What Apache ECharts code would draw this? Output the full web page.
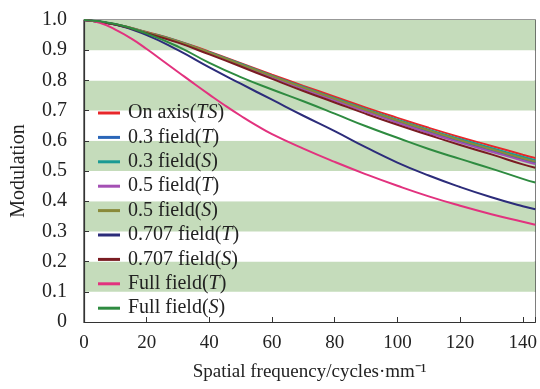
<!DOCTYPE html>
<html>
<head>
<meta charset="utf-8">
<script src="https://cdn.jsdelivr.net/npm/echarts@6/dist/echarts.min.js"></script>
<style>html,body{margin:0;padding:0;background:#fff}#c{width:540px;height:389px}</style>
</head>
<body>
<div id="c"></div>
<script>
// Spatial frequency samples (cycles/mm)
var freqs = [0, 10, 20, 30, 40, 50, 60, 70, 80, 90, 100, 110, 120, 130, 140, 144];
var freqsFine = [0, 5, 10, 15, 20, 25, 30, 35, 40, 45, 50, 55, 60, 70, 80, 90, 100, 110, 120, 130, 140, 144];

var seriesNames = ['On axis(TS)', '0.3 field(T)', '0.3 field(S)', '0.5 field(T)', '0.5 field(S)', '0.707 field(T)', '0.707 field(S)', 'Full field(T)', 'Full field(S)'];

var onAxisTS   = [1, 0.986, 0.960, 0.931, 0.895, 0.857, 0.819, 0.782, 0.746, 0.710, 0.676, 0.643, 0.612, 0.583, 0.554, 0.543];
var f03T       = [1, 0.985, 0.958, 0.928, 0.891, 0.852, 0.812, 0.773, 0.736, 0.699, 0.664, 0.630, 0.598, 0.568, 0.538, 0.527];
var f03S       = [1, 0.986, 0.959, 0.930, 0.893, 0.855, 0.816, 0.778, 0.741, 0.705, 0.670, 0.637, 0.606, 0.576, 0.547, 0.536];
var f05T       = [1, 0.985, 0.957, 0.927, 0.890, 0.850, 0.810, 0.771, 0.733, 0.696, 0.660, 0.626, 0.594, 0.564, 0.534, 0.523];
var f05S       = [1, 0.986, 0.959, 0.929, 0.892, 0.853, 0.814, 0.776, 0.739, 0.702, 0.667, 0.634, 0.602, 0.572, 0.542, 0.531];
var f0707T     = [1, 0.985, 0.950, 0.900, 0.843, 0.789, 0.736, 0.683, 0.632, 0.578, 0.528, 0.485, 0.447, 0.413, 0.383, 0.373];
var f0707S     = [1, 0.985, 0.956, 0.925, 0.886, 0.846, 0.805, 0.765, 0.727, 0.689, 0.653, 0.619, 0.586, 0.555, 0.522, 0.511];
var fullT      = [1, 0.991, 0.968, 0.939, 0.904, 0.866, 0.828, 0.790, 0.753, 0.717, 0.683, 0.651, 0.622, 0.574, 0.530, 0.489, 0.451, 0.416, 0.385, 0.357, 0.332, 0.322];
var fullS      = [1, 0.987, 0.955, 0.912, 0.858, 0.811, 0.770, 0.731, 0.690, 0.648, 0.610, 0.573, 0.540, 0.508, 0.474, 0.462];

var yTicks = [0, 0.1, 0.2, 0.3, 0.4, 0.5, 0.6, 0.7, 0.8, 0.9, 1.0];
var xTicks = [0, 20, 40, 60, 80, 100, 120, 140];

var colors = ['#e8262a', '#2a66b8', '#1a9a94', '#a450b4', '#8a8a3a', '#2c2c7a', '#7a1c22', '#e2327e', '#2e8b40'];
var valueSets = [onAxisTS, f03T, f03S, f05T, f05S, f0707T, f0707S, fullT, fullS];
var xSets = [freqs, freqs, freqs, freqs, freqs, freqs, freqs, freqsFine, freqs];

function pairs(xs, ys) { return xs.map(function (x, i) { return [x, ys[i]]; }); }

var FONT = '"Liberation Serif", "Times New Roman", serif';
var chart = echarts.init(document.getElementById('c'), null, {renderer: 'canvas'});
var series = seriesNames.map(function (n, i) {
  return {
    name: n, type: 'line', smooth: 0.5, showSymbol: false, symbol: 'none',
    data: pairs(xSets[i], valueSets[i]),
    lineStyle: {width: 2, color: colors[i]}, itemStyle: {color: colors[i]},
    z: 3
  };
});

chart.setOption({
  animation: false,
  color: colors,
  grid: {left: 84, right: 3, top: 20, bottom: 67, show: true, borderColor: '#333', borderWidth: 1.2, backgroundColor: 'transparent'},
  legend: {
    orient: 'vertical', left: 93, top: 98,
    icon: 'rect', itemWidth: 22, itemHeight: 3, itemGap: 4.4, itemStyle: {borderWidth: 0},
    textStyle: {fontFamily: FONT, fontSize: 20, color: '#222', lineHeight: 20, padding: [0, 0, 0, 3],
      rich: {i: {fontFamily: FONT, fontSize: 20, fontStyle: 'italic', color: '#222', lineHeight: 20}}},
    formatter: function (name) { return name.replace(/\((\w+)\)$/, '({i|$1})'); },
    data: seriesNames
  },
  xAxis: {
    type: 'value', min: 0, max: 144, interval: 20,
    name: 'Spatial frequency/cycles·mm⁻¹', nameLocation: 'middle', nameGap: 41,
    nameTextStyle: {fontFamily: FONT, fontSize: 19, color: '#222'},
    axisLine: {show: true, lineStyle: {color: '#333', width: 1.2}},
    axisTick: {show: true, inside: true, length: 5, lineStyle: {color: '#333'}},
    axisLabel: {fontFamily: FONT, fontSize: 19, color: '#222', margin: 12,
      formatter: function (v) { return xTicks.indexOf(v) >= 0 ? String(v) : ''; }},
    splitLine: {show: false}
  },
  yAxis: {
    type: 'value', min: 0, max: 1, interval: 0.1,
    name: 'Modulation', nameLocation: 'middle', nameGap: 55,
    nameTextStyle: {fontFamily: FONT, fontSize: 20, color: '#222'},
    axisLine: {show: true, lineStyle: {color: '#333', width: 1.2}},
    axisTick: {show: true, inside: true, length: 5, lineStyle: {color: '#333'}},
    axisLabel: {fontFamily: FONT, fontSize: 20, color: '#222', margin: 17,
      formatter: function (v) { var r = Math.round(v * 10) / 10; return r === 0 ? '0' : r.toFixed(1); }},
    splitLine: {show: false},
    splitArea: {show: true, areaStyle: {color: ['#ffffff', '#c5dcbb']}}
  },
  series: series
});
</script>
</body>
</html>
